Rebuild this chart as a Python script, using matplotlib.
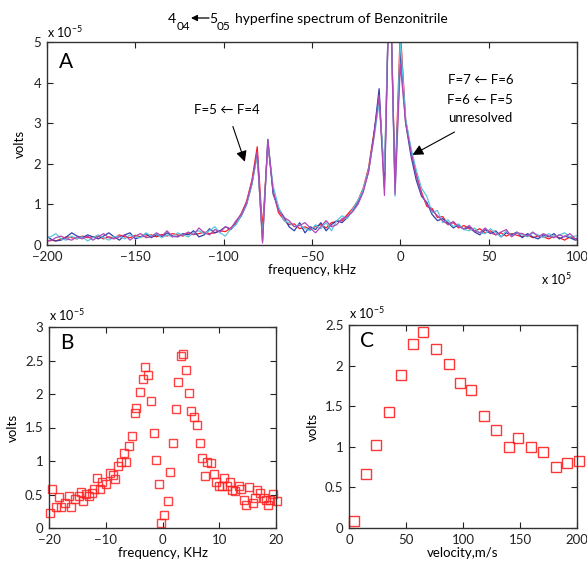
import numpy as np
import matplotlib
matplotlib.use('Agg')
import matplotlib.pyplot as plt

plt.rcParams['font.family'] = ['Lato', 'DejaVu Sans']
plt.rcParams['mathtext.fontset'] = 'custom'
plt.rcParams['mathtext.rm'] = 'Lato'
plt.rcParams['mathtext.fallback'] = 'stixsans'
plt.rcParams['font.size'] = 9

# ---- panel A: hyperfine spectrum, 4 scans (units of 1e-5 V)
freq_khz = [-201 + 3 * k for k in range(102)]

scan_red = [0.08, 0.12, 0.1, 0.15, 0.2, 0.18, 0.15, 0.22, 0.18, 0.2,
            0.22, 0.15, 0.2, 0.17, 0.25, 0.2, 0.18, 0.24, 0.2, 0.22,
            0.25, 0.2, 0.26, 0.22, 0.28, 0.25, 0.22, 0.3, 0.26, 0.28,
            0.32, 0.28, 0.3, 0.35, 0.33, 0.42, 0.55, 0.78, 1.08, 1.6,
            2.42, 0.4, 2.5, 1.35, 0.8, 0.62, 0.5, 0.52, 0.4, 0.45,
            0.38, 0.46, 0.5, 0.42, 0.55, 0.58, 0.6, 0.75, 0.9, 1.1,
            1.4, 1.9, 2.75, 3.6, 1.6, 7.0, 1.5, 5.3, 3.1, 2.3,
            1.75, 1.3, 0.95, 0.9, 0.68, 0.7, 0.5, 0.55, 0.42, 0.48,
            0.4, 0.35, 0.4, 0.3, 0.35, 0.25, 0.3, 0.22, 0.28, 0.24,
            0.2, 0.25, 0.18, 0.22, 0.2, 0.15, 0.22, 0.18, 0.12, 0.2, 0.15, 0.18]
scan_blue = [0.25, 0.15, 0.1, 0.12, 0.2, 0.3, 0.22, 0.18, 0.25, 0.2,
             0.15, 0.22, 0.3, 0.2, 0.12, 0.25, 0.3, 0.15, 0.2, 0.28,
             0.18, 0.25, 0.2, 0.3, 0.22, 0.2, 0.28, 0.25, 0.35, 0.2,
             0.25, 0.4, 0.3, 0.35, 0.45, 0.38, 0.52, 0.72, 1.0, 1.5,
             2.25, 0.1, 2.6, 1.25, 0.9, 0.7, 0.45, 0.35, 0.55, 0.3,
             0.45, 0.38, 0.55, 0.35, 0.5, 0.6, 0.55, 0.68, 0.85, 1.05,
             1.35, 1.8, 2.7, 3.85, 1.4, 7.0, 1.4, 4.8, 3.0, 2.2,
             1.6, 1.2, 1.05, 0.75, 0.6, 0.65, 0.55, 0.42, 0.5, 0.38,
             0.45, 0.32, 0.25, 0.38, 0.28, 0.35, 0.2, 0.3, 0.25, 0.32,
             0.18, 0.28, 0.2, 0.15, 0.25, 0.2, 0.28, 0.15, 0.22, 0.18, 0.12, 0.15]
scan_cyan = [0.18, 0.2, 0.28, 0.15, 0.12, 0.22, 0.15, 0.2, 0.1, 0.18,
             0.25, 0.18, 0.12, 0.2, 0.22, 0.15, 0.25, 0.2, 0.18, 0.3,
             0.22, 0.28, 0.18, 0.25, 0.2, 0.3, 0.25, 0.2, 0.3, 0.35,
             0.28, 0.35, 0.45, 0.3, 0.22, 0.4, 0.5, 0.75, 1.02, 1.5,
             2.2, 0.2, 2.5, 1.45, 0.95, 0.6, 0.55, 0.45, 0.5, 0.4,
             0.35, 0.5, 0.4, 0.55, 0.35, 0.6, 0.72, 0.65, 0.88, 1.1,
             1.38, 1.85, 2.6, 3.5, 1.8, 7.0, 1.2, 5.1, 3.1, 2.4,
             1.85, 1.4, 1.2, 0.8, 0.85, 0.55, 0.62, 0.45, 0.52, 0.38,
             0.35, 0.42, 0.3, 0.28, 0.4, 0.3, 0.2, 0.35, 0.22, 0.3,
             0.25, 0.2, 0.3, 0.25, 0.18, 0.28, 0.2, 0.25, 0.3, 0.2, 0.22, 0.25]
scan_magenta = [0.12, 0.1, 0.18, 0.22, 0.15, 0.12, 0.2, 0.15, 0.22, 0.12,
                0.2, 0.28, 0.18, 0.15, 0.2, 0.25, 0.12, 0.22, 0.28, 0.18,
                0.2, 0.3, 0.22, 0.35, 0.2, 0.22, 0.25, 0.32, 0.25, 0.42,
                0.3, 0.25, 0.38, 0.32, 0.45, 0.4, 0.6, 0.76, 1.05, 1.55,
                2.3, 0.05, 2.6, 1.3, 0.85, 0.68, 0.6, 0.45, 0.48, 0.55,
                0.42, 0.3, 0.45, 0.6, 0.45, 0.5, 0.65, 0.7, 0.82, 1.0,
                1.3, 1.8, 2.65, 3.7, 1.22, 7.0, 1.25, 4.45, 3.0, 2.3,
                1.7, 1.25, 1.0, 0.85, 0.72, 0.6, 0.5, 0.58, 0.45, 0.4,
                0.48, 0.35, 0.3, 0.42, 0.3, 0.25, 0.32, 0.38, 0.2, 0.3,
                0.28, 0.22, 0.32, 0.2, 0.28, 0.22, 0.18, 0.25, 0.2, 0.28, 0.15, 0.2]

# ---- panel B: zoom on the doublet
b_freq = [-19.9, -19.4, -18.8, -18.2, -17.8, -17.2, -16.5, -16.1, -15.5, -14.8,
          -14.4, -14.0, -13.4, -12.9, -12.5, -12.1, -11.6, -11.1, -10.6, -10.0,
          -9.3, -8.8, -8.4, -7.8, -7.4, -6.8, -6.4, -5.9, -5.4, -4.9,
          -4.6, -4.0, -3.5, -3.1, -2.5, -2.1, -1.5, -1.1, -0.6, -0.2,
          0.3, 0.9, 1.3, 1.8, 2.4, 2.8, 3.2, 3.6, 4.2, 4.7,
          5.1, 5.6, 6.1, 6.6, 7.0, 7.5, 7.9, 8.5, 9.1, 9.4,
          10.0, 10.4, 10.8, 11.3, 11.9, 12.3, 12.8, 13.4, 13.8, 14.4,
          14.7, 15.2, 15.9, 16.3, 16.7, 17.2, 17.8, 18.2, 18.6, 18.9,
          19.5, 20.1]
b_volts = [0.23, 0.58, 0.32, 0.47, 0.32, 0.37, 0.48, 0.31, 0.43, 0.48,
           0.54, 0.41, 0.51, 0.48, 0.52, 0.58, 0.74, 0.58, 0.68, 0.66,
           0.82, 0.79, 0.73, 0.93, 0.99, 1.12, 0.99, 1.22, 1.37, 1.72,
           1.79, 2.03, 2.22, 2.40, 2.28, 1.90, 1.42, 1.02, 0.65, 0.08,
           0.20, 0.40, 0.83, 1.27, 1.78, 2.18, 2.56, 2.60, 2.36, 2.01,
           1.75, 1.65, 1.53, 1.27, 1.04, 0.77, 0.98, 0.97, 0.80, 0.68,
           0.63, 0.62, 0.74, 0.63, 0.68, 0.57, 0.55, 0.63, 0.58, 0.42,
           0.35, 0.61, 0.38, 0.45, 0.57, 0.52, 0.45, 0.42, 0.35, 0.42,
           0.51, 0.41]

# ---- panel C: signal vs velocity
c_vel = [4.1, 14.6, 23.7, 34.8, 45.6, 55.8, 64.9, 76.0, 87.4, 97.1,
         107.0, 118.4, 128.7, 140.4, 148.2, 159.6, 170.5, 181.9, 191.2, 202.0]
c_volts = [0.09, 0.66, 1.02, 1.43, 1.89, 2.27, 2.41, 2.21, 2.02, 1.78,
           1.70, 1.38, 1.21, 1.00, 1.11, 1.00, 0.94, 0.75, 0.80, 0.83]

W, H = 587, 567
fig = plt.figure(figsize=(W / 100, H / 100), dpi=100)


def box(l, t, r, b):
    return [l / W, 1 - b / H, (r - l) / W, (b - t) / H]


def px(x, y):
    # pixel position (from top-left) -> figure fraction
    return x / W, 1 - y / H


def matlab_style(ax):
    ax.tick_params(direction='in', length=4, width=0.8, top=True, right=True,
                   labelsize=9.5, colors='#222222')
    ax.tick_params(axis='x', pad=4)
    ax.tick_params(axis='y', pad=4)
    for s in ax.spines.values():
        s.set_linewidth(1.0)
        s.set_color('#333333')


EXP_NEG = r'x 10$^{\mathregular{-5}}$'


def fmt(v):
    return ('%g' % v).replace('-', '\u2212')


# Panel A
axA = fig.add_axes(box(47, 42, 577, 245))
for vals, col in [(scan_red, '#ff1a1a'), (scan_blue, '#3340a8'),
                  (scan_cyan, '#5cc6dd'), (scan_magenta, '#b048b8')]:
    axA.plot(freq_khz, vals, color=col, lw=0.9)
axA.set_xlim(-200, 100)
axA.set_ylim(0, 5)
xt = [-200, -150, -100, -50, 0, 50, 100]
axA.set_xticks(xt)
axA.set_xticklabels([fmt(v) for v in xt])
axA.set_yticks(range(6))
axA.set_yticklabels([fmt(v) for v in range(6)])
axA.set_xlabel('frequency, kHz', fontsize=9.5, labelpad=1)
axA.set_ylabel('volts', fontsize=9.5, labelpad=6)
matlab_style(axA)
axA.text(-193, 4.5, 'A', fontsize=15, va='center', ha='left')
axA.text(0.0, 1.01, EXP_NEG, transform=axA.transAxes, ha='left', va='bottom', fontsize=9)
axA.text(0.99, -0.195, r'x 10$^{\mathregular{5}}$', transform=axA.transAxes,
         ha='right', va='baseline', fontsize=9)

# title pieces: 4_04 <- 5_05 hyperfine spectrum of Benzonitrile
fig.text(*px(168, 23), '4', ha='left', va='baseline', fontsize=10)
fig.text(*px(176.5, 30), '04', ha='left', va='baseline', fontsize=8.5)
axA.annotate('', xy=px(191, 18), xytext=px(209, 18), xycoords='figure fraction',
             textcoords='figure fraction', annotation_clip=False,
             arrowprops=dict(arrowstyle='-|>', color='k', lw=0.9,
                             mutation_scale=9, shrinkA=0, shrinkB=0))
fig.text(*px(209.5, 23), '5', ha='left', va='baseline', fontsize=10)
fig.text(*px(217, 30), '05', ha='left', va='baseline', fontsize=8.5)
fig.text(*px(235, 23), 'hyperfine spectrum of Benzonitrile',
         ha='left', va='baseline', fontsize=10)

axA.annotate('F=5 \u2190 F=4', xy=(-88.0, 2.05), xytext=(-98.0, 3.33),
             ha='center', va='center', fontsize=9.5,
             arrowprops=dict(arrowstyle='-|>', color='k', lw=0.8,
                             mutation_scale=16, shrinkA=6, shrinkB=0))
axA.text(45.3, 4.06, 'F=7 \u2190 F=6', ha='center', va='center', fontsize=9.5)
axA.text(45.3, 3.57, 'F=6 \u2190 F=5', ha='center', va='center', fontsize=9.5)
axA.annotate('unresolved', xy=(6.9, 2.22), xytext=(45.3, 3.13),
             ha='center', va='center', fontsize=9.5,
             arrowprops=dict(arrowstyle='-|>', color='k', lw=0.8,
                             mutation_scale=16, shrinkA=8, shrinkB=0))

# Panel B
axB = fig.add_axes(box(49, 327, 276, 528))
axB.plot(b_freq, b_volts, ls='none', marker='s', ms=5.2, mfc='none',
         mec='#ff2020', mew=1.0, alpha=0.85, clip_on=False)
axB.set_xlim(-20, 20)
axB.set_ylim(0, 3)
bx = [-20, -10, 0, 10, 20]
axB.set_xticks(bx)
axB.set_xticklabels([fmt(v) for v in bx])
by = [0, 0.5, 1, 1.5, 2, 2.5, 3]
axB.set_yticks(by)
axB.set_yticklabels([fmt(v) for v in by])
axB.set_xlabel('frequency, KHz', fontsize=9.5, labelpad=1)
axB.set_ylabel('volts', fontsize=9.5, labelpad=4)
matlab_style(axB)
axB.text(0.05, 0.92, 'B', transform=axB.transAxes, fontsize=15, va='center')
axB.text(0.0, 1.02, EXP_NEG, transform=axB.transAxes, ha='left', va='bottom', fontsize=9)

# Panel C
axC = fig.add_axes(box(349, 325, 577, 528))
axC.plot(c_vel, c_volts, ls='none', marker='s', ms=6.8, mfc='none',
         mec='#ff2020', mew=1.0, alpha=0.9, clip_on=False)
axC.set_xlim(0, 200)
axC.set_ylim(0, 2.5)
cx = [0, 50, 100, 150, 200]
axC.set_xticks(cx)
axC.set_xticklabels([fmt(v) for v in cx])
cy = [0, 0.5, 1, 1.5, 2, 2.5]
axC.set_yticks(cy)
axC.set_yticklabels([fmt(v) for v in cy])
axC.set_xlabel('velocity,m/s', fontsize=9.5, labelpad=1)
axC.set_ylabel('volts', fontsize=9.5, labelpad=4)
matlab_style(axC)
axC.text(0.05, 0.92, 'C', transform=axC.transAxes, fontsize=15, va='center')
axC.text(0.0, 1.02, EXP_NEG, transform=axC.transAxes, ha='left', va='bottom', fontsize=9)

fig.savefig('out.png', dpi=100)
